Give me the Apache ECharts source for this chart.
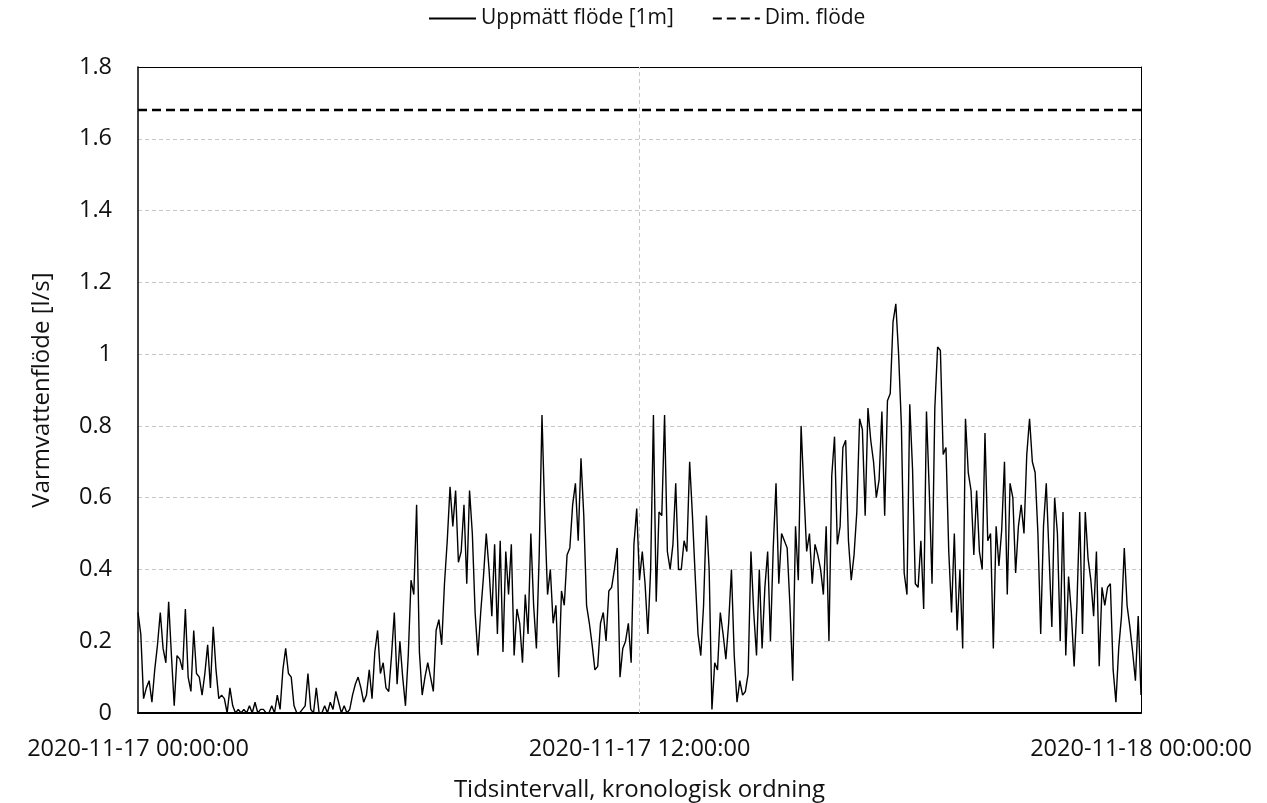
<!DOCTYPE html>
<html>
<head>
<meta charset="utf-8">
<script src="https://cdn.jsdelivr.net/npm/echarts@6/dist/echarts.min.js"></script>
<style>
  html, body { margin: 0; padding: 0; background: #fff; }
  #chart { width: 1267px; height: 803px; }
</style>
</head>
<body>
<div id="chart"></div>
<script>
// Hot water flow, 2020-11-17, sampled every 4 minutes (l/s)
const stepMinutes = 4;
const flowLps = [
  // 00:00
  0.28, 0.22, 0.04, 0.07, 0.09, 0.03, 0.12, 0.19, 0.28, 0.18, 0.14, 0.31, 0.16, 0.02, 0.16,
  // 01:00
  0.15, 0.12, 0.29, 0.10, 0.06, 0.23, 0.11, 0.10, 0.05, 0.11, 0.19, 0.07, 0.24, 0.12, 0.04,
  // 02:00
  0.05, 0.04, 0.00, 0.07, 0.02, 0.00, 0.01, 0.00, 0.01, 0.00, 0.02, 0.00, 0.03, 0.00, 0.01,
  // 03:00
  0.01, 0.00, 0.00, 0.02, 0.00, 0.05, 0.01, 0.12, 0.18, 0.11, 0.10, 0.02, 0.00, 0.00, 0.01,
  // 04:00
  0.02, 0.11, 0.01, 0.00, 0.07, 0.00, 0.00, 0.02, 0.00, 0.03, 0.01, 0.06, 0.03, 0.00, 0.02,
  // 05:00
  0.00, 0.01, 0.05, 0.08, 0.10, 0.07, 0.03, 0.05, 0.12, 0.04, 0.17, 0.23, 0.11, 0.14, 0.07,
  // 06:00
  0.06, 0.16, 0.28, 0.08, 0.20, 0.10, 0.02, 0.16, 0.37, 0.33, 0.58, 0.17, 0.05, 0.10, 0.14,
  // 07:00
  0.10, 0.06, 0.23, 0.26, 0.19, 0.36, 0.48, 0.63, 0.52, 0.62, 0.42, 0.45, 0.58, 0.36, 0.62,
  // 08:00
  0.50, 0.28, 0.16, 0.28, 0.38, 0.50, 0.40, 0.27, 0.47, 0.22, 0.48, 0.17, 0.45, 0.33, 0.47,
  // 09:00
  0.16, 0.29, 0.25, 0.14, 0.33, 0.22, 0.50, 0.30, 0.18, 0.44, 0.83, 0.55, 0.33, 0.40, 0.25,
  // 10:00
  0.30, 0.10, 0.34, 0.30, 0.44, 0.46, 0.58, 0.64, 0.48, 0.71, 0.55, 0.30, 0.25, 0.19, 0.12,
  // 11:00
  0.13, 0.25, 0.28, 0.20, 0.34, 0.35, 0.40, 0.46, 0.10, 0.18, 0.20, 0.25, 0.14, 0.47, 0.57,
  // 12:00
  0.37, 0.45, 0.36, 0.22, 0.40, 0.83, 0.31, 0.56, 0.55, 0.83, 0.45, 0.40, 0.47, 0.64, 0.40,
  // 13:00
  0.40, 0.48, 0.45, 0.70, 0.55, 0.38, 0.22, 0.16, 0.30, 0.55, 0.40, 0.01, 0.14, 0.12, 0.28,
  // 14:00
  0.22, 0.15, 0.25, 0.40, 0.16, 0.03, 0.09, 0.05, 0.06, 0.11, 0.45, 0.28, 0.16, 0.40, 0.18,
  // 15:00
  0.35, 0.45, 0.20, 0.46, 0.64, 0.36, 0.50, 0.48, 0.46, 0.30, 0.09, 0.52, 0.37, 0.80, 0.62,
  // 16:00
  0.45, 0.50, 0.36, 0.47, 0.44, 0.40, 0.33, 0.52, 0.20, 0.66, 0.77, 0.47, 0.52, 0.74, 0.76,
  // 17:00
  0.48, 0.37, 0.44, 0.56, 0.82, 0.79, 0.55, 0.85, 0.76, 0.70, 0.60, 0.65, 0.84, 0.55, 0.87,
  // 18:00
  0.89, 1.09, 1.14, 1.00, 0.80, 0.39, 0.33, 0.86, 0.68, 0.36, 0.35, 0.48, 0.29, 0.84, 0.62,
  // 19:00
  0.36, 0.85, 1.02, 1.01, 0.72, 0.74, 0.45, 0.28, 0.50, 0.23, 0.40, 0.18, 0.82, 0.67, 0.62,
  // 20:00
  0.44, 0.62, 0.45, 0.40, 0.78, 0.48, 0.50, 0.18, 0.52, 0.41, 0.51, 0.70, 0.33, 0.64, 0.60,
  // 21:00
  0.39, 0.52, 0.58, 0.50, 0.72, 0.82, 0.70, 0.67, 0.50, 0.22, 0.52, 0.64, 0.44, 0.24, 0.60,
  // 22:00
  0.50, 0.20, 0.56, 0.16, 0.38, 0.28, 0.13, 0.30, 0.56, 0.22, 0.56, 0.43, 0.37, 0.27, 0.45,
  // 23:00
  0.13, 0.35, 0.30, 0.35, 0.36, 0.12, 0.03, 0.18, 0.27, 0.46, 0.30, 0.24, 0.17, 0.09, 0.27,
  // 24:00
  0.05
];

// Design flow (l/s)
const dimFlow = 1.68;

// Axis ticks: minutes since 2020-11-17 00:00 and their labels
const xTickMinutes = [0, 720, 1440];
const xTickLabels = ['2020-11-17 00:00:00', '2020-11-17 12:00:00', '2020-11-18 00:00:00'];
const yMax = 1.8;
const yStep = 0.2;

const seriesNames = ['Uppmätt flöde [1m]', 'Dim. flöde'];
const xAxisTitle = 'Tidsintervall, kronologisk ordning';
const yAxisTitle = 'Varmvattenflöde [l/s]';

const xMin = xTickMinutes[0];
const xMax = xTickMinutes[xTickMinutes.length - 1];
const measured = flowLps.map((v, i) => [i * stepMinutes, v]);
const design = [[xMin, dimFlow], [xMax, dimFlow]];

const FONT = 'Open Sans';
const TXT = '#111';
const GRID_LINE = { color: '#c8c8c8', type: [4, 3], width: 1 };

// frame-only axes (top and right edges of the plot)
const frameAxis = {
  show: true,
  axisLine: { show: true, onZero: false, lineStyle: { color: '#000', width: 1 } },
  axisTick: { show: false },
  axisLabel: { show: false },
  splitLine: { show: false }
};

const chart = echarts.init(document.getElementById('chart'), null, { renderer: 'canvas' });
chart.setOption({
  animation: false,
  backgroundColor: '#fff',
  textStyle: { fontFamily: FONT, color: TXT },
  legend: {
    top: 3,
    left: 423,
    itemWidth: 47,
    itemHeight: 14,
    itemGap: 38,
    itemStyle: { opacity: 0 },
    textStyle: { fontFamily: FONT, fontSize: 21, color: TXT },
    data: seriesNames
  },
  grid: {
    left: 138, right: 126, top: 67, bottom: 90,
    show: false, containLabel: false, outerBoundsMode: 'none'
  },
  xAxis: [
    {
      type: 'value',
      min: xMin,
      max: xMax,
      interval: xTickMinutes[1] - xTickMinutes[0],
      name: xAxisTitle,
      nameLocation: 'middle',
      nameGap: 65,
      nameTextStyle: { fontFamily: FONT, fontSize: 24, color: TXT },
      axisLine: { show: true, lineStyle: { color: '#000', width: 2 } },
      axisTick: { show: false },
      axisLabel: {
        fontFamily: FONT, fontSize: 23.5, color: TXT, margin: 24,
        showMinLabel: true, showMaxLabel: true,
        formatter: v => xTickLabels[xTickMinutes.indexOf(v)] || ''
      },
      splitLine: { show: false }
    },
    Object.assign({ type: 'value', position: 'top', min: xMin, max: xMax }, frameAxis)
  ],
  yAxis: [
    {
      type: 'value',
      min: 0,
      max: yMax,
      interval: yStep,
      name: yAxisTitle,
      nameLocation: 'middle',
      nameGap: 84,
      nameTextStyle: { fontFamily: FONT, fontSize: 24, color: TXT },
      axisLine: { show: true, lineStyle: { color: '#000', width: 1.5 } },
      axisTick: { show: false },
      axisLabel: {
        fontFamily: FONT, fontSize: 23.5, color: TXT, margin: 26,
        formatter: v => String(Math.round(v * 10) / 10)
      },
      splitLine: { show: true, lineStyle: GRID_LINE }
    },
    Object.assign({ type: 'value', position: 'right', min: 0, max: yMax }, frameAxis)
  ],
  series: [
    {
      name: seriesNames[0],
      type: 'line',
      data: measured,
      symbol: 'none',
      lineStyle: { color: '#000', width: 1.4 },
      itemStyle: { color: '#000' },
      z: 3,
      // vertical guide at midday
      markLine: {
        silent: true,
        symbol: 'none',
        label: { show: false },
        lineStyle: GRID_LINE,
        data: [{ xAxis: xTickMinutes[1] }],
        z: 1
      }
    },
    {
      name: seriesNames[1],
      type: 'line',
      data: design,
      symbol: 'none',
      lineStyle: { color: '#000', width: 2.5, type: [9, 5] },
      itemStyle: { color: '#000' },
      z: 4
    }
  ]
});
</script>
</body>
</html>
